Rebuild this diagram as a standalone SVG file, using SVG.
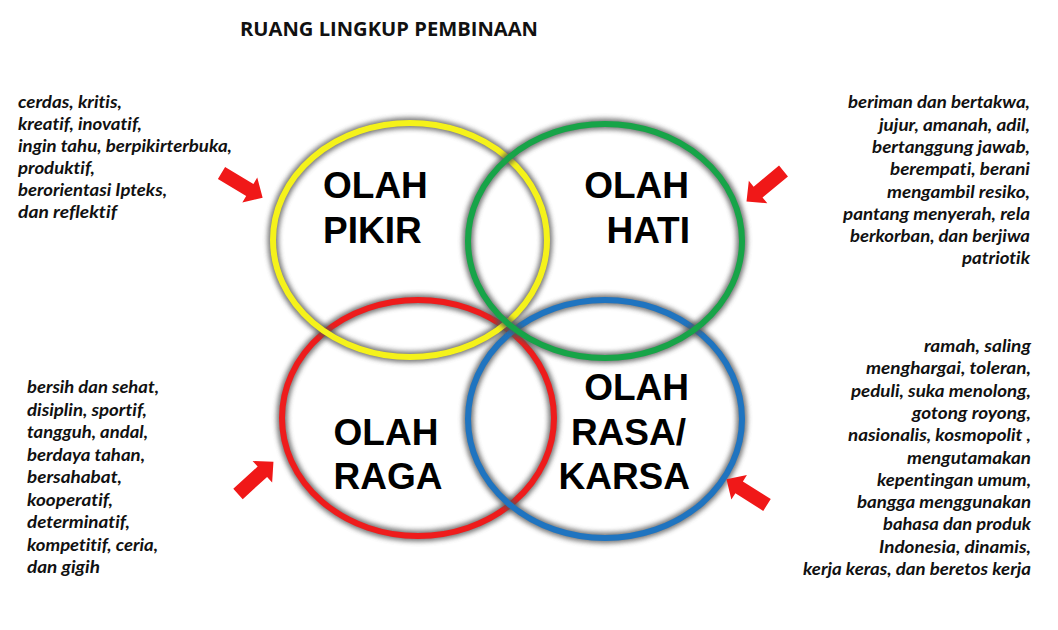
<svg xmlns="http://www.w3.org/2000/svg" width="1058" height="630" viewBox="0 0 1058 630">
<style>
.title{font-family:"Open Sans","Liberation Sans",sans-serif;font-weight:700;font-size:19px;fill:#111}
.lbl{font-family:"Liberation Sans",Arial,sans-serif;font-weight:bold;font-size:37px;fill:#000}
.desc{font-family:Lato,"Open Sans","Liberation Sans",sans-serif;font-weight:bold;font-style:italic;font-size:16.5px;fill:#111;font-variant-ligatures:none;font-feature-settings:"liga" 0,"dlig" 0}
.ring{fill:none;stroke-width:6}
.shadow{fill:none;stroke:#555;stroke-width:11;opacity:0.8;filter:url(#blur)}
.arrow{fill:#f01818}
</style>
<defs>
<filter id="blur" x="-10%" y="-10%" width="120%" height="120%"><feGaussianBlur stdDeviation="2.6"/></filter>
<path id="arr" d="M0,-7 L33,-7 L33,-14.5 L48,0 L33,14.5 L33,7 L0,7 Z"/>
</defs>
<rect width="1058" height="630" fill="#fff"/>
<text class="title" x="240" y="36" textLength="298" lengthAdjust="spacingAndGlyphs">RUANG LINGKUP PEMBINAAN</text>

<g id="olah-raga">
<ellipse class="shadow" cx="418" cy="418" rx="136" ry="118"/>
<ellipse class="ring" cx="418" cy="418" rx="136" ry="118" stroke="#ee1c1c"/>
<text class="lbl" x="386" y="445" text-anchor="middle">OLAH</text>
<text class="lbl" x="388" y="489" text-anchor="middle">RAGA</text>
</g>
<g id="olah-rasa-karsa">
<ellipse class="shadow" cx="605" cy="419" rx="137" ry="119"/>
<ellipse class="ring" cx="605" cy="419" rx="137" ry="119" stroke="#1f74c0"/>
<text class="lbl" x="689" y="400" text-anchor="end">OLAH</text>
<text class="lbl" x="686" y="445" text-anchor="end">RASA/</text>
<text class="lbl" x="690" y="489" text-anchor="end">KARSA</text>
</g>
<g id="olah-pikir">
<ellipse class="shadow" cx="410" cy="240" rx="137" ry="117"/>
<ellipse class="ring" cx="410" cy="240" rx="137" ry="117" stroke="#f5f21a"/>
<text class="lbl" x="323" y="198">OLAH</text>
<text class="lbl" x="323" y="243">PIKIR</text>
</g>
<g id="olah-hati">
<ellipse class="shadow" cx="605" cy="241" rx="137" ry="117"/>
<ellipse class="ring" cx="605" cy="241" rx="137" ry="117" stroke="#17a448"/>
<text class="lbl" x="689" y="198" text-anchor="end">OLAH</text>
<text class="lbl" x="690" y="243" text-anchor="end">HATI</text>
</g>

<g id="desc-pikir">
<text class="desc" x="18" y="108" textLength="104" lengthAdjust="spacingAndGlyphs">cerdas, kritis,</text>
<text class="desc" x="18" y="130" textLength="124" lengthAdjust="spacingAndGlyphs">kreatif, inovatif,</text>
<text class="desc" x="18" y="152" textLength="214" lengthAdjust="spacingAndGlyphs">ingin tahu, berpikirterbuka,</text>
<text class="desc" x="18" y="174" textLength="77" lengthAdjust="spacingAndGlyphs">produktif,</text>
<text class="desc" x="18" y="196" textLength="149" lengthAdjust="spacingAndGlyphs">berorientasi Ipteks,</text>
<text class="desc" x="18" y="218" textLength="99" lengthAdjust="spacingAndGlyphs">dan reflektif</text>
</g>
<g id="desc-hati">
<text class="desc" x="1030" y="108" text-anchor="end" textLength="182" lengthAdjust="spacingAndGlyphs">beriman dan bertakwa,</text>
<text class="desc" x="1030" y="131" text-anchor="end" textLength="151" lengthAdjust="spacingAndGlyphs">jujur, amanah, adil,</text>
<text class="desc" x="1030" y="153" text-anchor="end" textLength="158" lengthAdjust="spacingAndGlyphs">bertanggung jawab,</text>
<text class="desc" x="1030" y="175" text-anchor="end" textLength="140" lengthAdjust="spacingAndGlyphs">berempati, berani</text>
<text class="desc" x="1030" y="198" text-anchor="end" textLength="143" lengthAdjust="spacingAndGlyphs">mengambil resiko,</text>
<text class="desc" x="1030" y="220" text-anchor="end" textLength="187" lengthAdjust="spacingAndGlyphs">pantang menyerah, rela</text>
<text class="desc" x="1030" y="242" text-anchor="end" textLength="180" lengthAdjust="spacingAndGlyphs">berkorban, dan berjiwa</text>
<text class="desc" x="1030" y="264" text-anchor="end" textLength="68" lengthAdjust="spacingAndGlyphs">patriotik</text>
</g>
<g id="desc-raga">
<text class="desc" x="27" y="393" textLength="132" lengthAdjust="spacingAndGlyphs">bersih dan sehat,</text>
<text class="desc" x="27" y="415.5" textLength="120" lengthAdjust="spacingAndGlyphs">disiplin, sportif,</text>
<text class="desc" x="27" y="438" textLength="121" lengthAdjust="spacingAndGlyphs">tangguh, andal,</text>
<text class="desc" x="27" y="460.5" textLength="118" lengthAdjust="spacingAndGlyphs">berdaya tahan,</text>
<text class="desc" x="27" y="483" textLength="95" lengthAdjust="spacingAndGlyphs">bersahabat,</text>
<text class="desc" x="27" y="505.5" textLength="86" lengthAdjust="spacingAndGlyphs">kooperatif,</text>
<text class="desc" x="27" y="528" textLength="103" lengthAdjust="spacingAndGlyphs">determinatif,</text>
<text class="desc" x="27" y="550.5" textLength="131" lengthAdjust="spacingAndGlyphs">kompetitif, ceria,</text>
<text class="desc" x="27" y="573" textLength="73" lengthAdjust="spacingAndGlyphs">dan gigih</text>
</g>
<g id="desc-rasa">
<text class="desc" x="1031" y="352" text-anchor="end" textLength="107" lengthAdjust="spacingAndGlyphs">ramah, saling</text>
<text class="desc" x="1031" y="374.3" text-anchor="end" textLength="165" lengthAdjust="spacingAndGlyphs">menghargai, toleran,</text>
<text class="desc" x="1031" y="396.6" text-anchor="end" textLength="180" lengthAdjust="spacingAndGlyphs">peduli, suka menolong,</text>
<text class="desc" x="1031" y="418.9" text-anchor="end" textLength="119" lengthAdjust="spacingAndGlyphs">gotong royong,</text>
<text class="desc" x="1031" y="441.2" text-anchor="end" textLength="183" lengthAdjust="spacingAndGlyphs">nasionalis, kosmopolit ,</text>
<text class="desc" x="1031" y="463.5" text-anchor="end" textLength="124" lengthAdjust="spacingAndGlyphs">mengutamakan</text>
<text class="desc" x="1031" y="485.8" text-anchor="end" textLength="154" lengthAdjust="spacingAndGlyphs">kepentingan umum,</text>
<text class="desc" x="1031" y="508.1" text-anchor="end" textLength="174" lengthAdjust="spacingAndGlyphs">bangga menggunakan</text>
<text class="desc" x="1031" y="530.4" text-anchor="end" textLength="148" lengthAdjust="spacingAndGlyphs">bahasa dan produk</text>
<text class="desc" x="1031" y="552.7" text-anchor="end" textLength="152" lengthAdjust="spacingAndGlyphs">Indonesia, dinamis,</text>
<text class="desc" x="1031" y="575" text-anchor="end" textLength="228" lengthAdjust="spacingAndGlyphs">kerja keras, dan beretos kerja</text>
</g>

<g id="connectors">
<use href="#arr" class="arrow" transform="translate(221.5,173) rotate(31)"/>
<use href="#arr" class="arrow" transform="translate(783.5,171) rotate(140.4)"/>
<use href="#arr" class="arrow" transform="translate(238,494) rotate(-42.4)"/>
<use href="#arr" class="arrow" transform="translate(767,505) rotate(212.4)"/>
</g>
</svg>
